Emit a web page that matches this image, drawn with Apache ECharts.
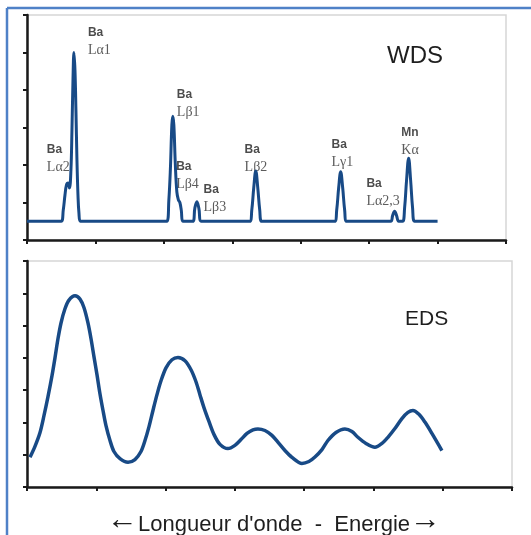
<!DOCTYPE html>
<html>
<head>
<meta charset="utf-8">
<script src="https://cdn.jsdelivr.net/npm/echarts@6/dist/echarts.min.js"></script>
<style>html,body{margin:0;padding:0;background:#fff}#c{width:531px;height:535px}</style>
</head>
<body>
<div id="c"></div>
<script>
// WDS spectrum (x position, intensity)
const wdsX = [0, 0.5, 0.53, 0.555, 0.577, 0.6, 0.62, 0.642, 0.657, 0.672, 0.686, 0.701, 0.715, 0.73, 0.745, 0.759, 0.78,
  2.044, 2.073, 2.095, 2.117, 2.131, 2.146, 2.168, 2.19, 2.212, 2.234, 2.255, 2.277,
  2.423, 2.453, 2.482, 2.511, 2.547,
  3.255, 3.285, 3.314, 3.343, 3.372, 3.401, 3.43,
  4.496, 4.526, 4.555, 4.584, 4.613, 4.642, 4.672,
  5.314, 5.343, 5.372, 5.401, 5.431,
  5.489, 5.518, 5.547, 5.577, 5.606, 5.635, 5.664, 6.0];
const wdsY = [0.5, 0.5, 0.8, 1.2, 1.47, 1.52, 1.39, 1.87, 2.93, 4.27, 5.0, 4.53, 3.47, 2.13, 1.2, 0.72, 0.5,
  0.5, 1.07, 1.87, 3.07, 3.3, 3.07, 2.0, 1.28, 1.07, 1.0, 0.79, 0.5,
  0.5, 0.85, 1.02, 0.85, 0.5,
  0.5, 0.8, 1.4, 1.84, 1.4, 0.8, 0.5,
  0.5, 0.8, 1.4, 1.82, 1.4, 0.8, 0.5,
  0.5, 0.65, 0.77, 0.65, 0.5,
  0.5, 0.85, 1.6, 2.18, 1.6, 0.85, 0.5, 0.5];

// EDS spectrum
const edsX = [0.043, 0.115, 0.188, 0.245, 0.303, 0.361, 0.404, 0.447, 0.491, 0.548,
  0.606, 0.693, 0.765, 0.823, 0.880, 0.924, 0.967, 1.010, 1.053, 1.097,
  1.140, 1.198, 1.255, 1.342, 1.458, 1.558, 1.645, 1.703, 1.761, 1.818,
  1.876, 1.934, 2.006, 2.092, 2.179, 2.280, 2.367, 2.439, 2.496, 2.554,
  2.626, 2.698, 2.785, 2.900, 3.001, 3.088, 3.175, 3.261, 3.333, 3.434,
  3.535, 3.636, 3.723, 3.824, 3.968, 4.069, 4.156, 4.257, 4.343, 4.459,
  4.589, 4.690, 4.776, 4.892, 5.022, 5.123, 5.209, 5.310, 5.411, 5.498,
  5.570, 5.657, 5.743, 5.844, 5.988];
const edsY = [0.92, 1.26, 1.69, 2.21, 2.80, 3.45, 4.00, 4.59, 5.08, 5.52,
  5.79, 5.92, 5.82, 5.55, 5.08, 4.59, 4.03, 3.48, 2.89, 2.37,
  1.90, 1.44, 1.10, 0.88, 0.77, 0.85, 1.10, 1.44, 1.87, 2.37,
  2.86, 3.29, 3.69, 3.94, 4.01, 3.91, 3.63, 3.26, 2.86, 2.46,
  2.03, 1.63, 1.32, 1.19, 1.29, 1.47, 1.66, 1.77, 1.80, 1.75,
  1.60, 1.35, 1.13, 0.92, 0.73, 0.79, 0.93, 1.16, 1.44, 1.69,
  1.80, 1.72, 1.54, 1.35, 1.23, 1.35, 1.54, 1.81, 2.12, 2.31,
  2.37, 2.25, 2.01, 1.66, 1.13];

// Peak annotations (anchor = top-left of label, in data coords)
const peakElem = ['Ba', 'Ba', 'Ba', 'Ba', 'Ba', 'Ba', 'Ba', 'Ba', 'Mn'];
const peakLine = ['Lα2', 'Lα1', 'Lβ1', 'Lβ4', 'Lβ3', 'Lβ2', 'Lγ1', 'Lα2,3', 'Kα'];
const peakLabX = [0.29, 0.89, 2.19, 2.18, 2.58, 3.18, 4.45, 4.96, 5.47];
const peakLabY = [2.63, 5.75, 4.09, 2.17, 1.56, 2.63, 2.76, 1.72, 3.08];

const lineColor = '#184a86';
const axisStyle = {
  axisLine: { show: true, onZero: false, lineStyle: { color: '#1a1a1a', width: 2.5 } },
  axisTick: { show: true, inside: false, length: 4, lineStyle: { color: '#1a1a1a', width: 2 } },
  axisLabel: { show: false },
  splitLine: { show: false }
};

const chart = echarts.init(document.getElementById('c'));
chart.setOption({
  animation: false,
  grid: [
    { left: 27, top: 15, right: 25, height: 225, show: true, borderColor: '#d6d6d6', borderWidth: 1.5, backgroundColor: '#fff' },
    { left: 27, top: 261, right: 19, height: 226, show: true, borderColor: '#d6d6d6', borderWidth: 1.5, backgroundColor: '#fff' }
  ],
  xAxis: [
    Object.assign({ type: 'value', gridIndex: 0, min: 0, max: 7, interval: 1 }, axisStyle),
    Object.assign({ type: 'value', gridIndex: 1, min: 0, max: 7, interval: 1 }, axisStyle)
  ],
  yAxis: [
    Object.assign({ type: 'value', gridIndex: 0, min: 0, max: 6, interval: 1 }, axisStyle),
    Object.assign({ type: 'value', gridIndex: 1, min: 0, max: 7, interval: 1 }, axisStyle)
  ],
  title: [
    { text: 'WDS', left: 382, top: 39, textStyle: { fontFamily: 'Liberation Sans, Arial', fontWeight: 'normal', fontSize: 24, color: '#1e1e1e' } },
    { text: 'EDS', left: 400, top: 304, textStyle: { fontFamily: 'Liberation Sans, Arial', fontWeight: 'normal', fontSize: 21, color: '#1e1e1e' } },
    {
      text: '{a|←}{t|Longueur d\'onde  -  Energie}{a|→}', left: 102, top: 506,
      textStyle: {
        fontWeight: 'normal',
        rich: {
          t: { fontFamily: 'Liberation Sans, Arial', fontWeight: 'normal', fontSize: 22, color: '#1e1e1e', lineHeight: 28, verticalAlign: 'middle' },
          a: { fontFamily: 'Liberation Serif, serif', fontWeight: 'normal', fontSize: 31, color: '#1e1e1e', lineHeight: 28, verticalAlign: 'middle', padding: [0, 0, 8, 0] }
        }
      }
    }
  ],
  graphic: [
    { type: 'line', shape: { x1: 7, y1: 8, x2: 531, y2: 8 }, style: { stroke: '#4f81c7', lineWidth: 2.5 } },
    { type: 'line', shape: { x1: 7, y1: 8, x2: 7, y2: 535 }, style: { stroke: '#4f81c7', lineWidth: 2.5 } }
  ],
  series: [
    {
      type: 'line', xAxisIndex: 0, yAxisIndex: 0, showSymbol: false, smooth: 0.4,
      lineStyle: { color: lineColor, width: 3 },
      data: wdsX.map((x, i) => [x, wdsY[i]])
    },
    {
      type: 'line', xAxisIndex: 1, yAxisIndex: 1, showSymbol: false, smooth: 0.3,
      lineStyle: { color: lineColor, width: 3.5 },
      data: edsX.map((x, i) => [x, edsY[i]])
    },
    {
      type: 'scatter', xAxisIndex: 0, yAxisIndex: 0, symbolSize: 0, silent: true,
      data: peakLabX.map((x, i) => ({ value: [x, peakLabY[i]], elem: peakElem[i], line: peakLine[i] })),
      label: {
        show: true, position: [0, 0], align: 'left', verticalAlign: 'top',
        formatter: p => '{b|' + p.data.elem + '}\n{s|' + p.data.line + '}',
        rich: {
          b: { fontFamily: 'Liberation Sans, Arial', fontWeight: 'bold', fontSize: 12, color: '#1e1e1e', lineHeight: 17 },
          s: { fontFamily: 'Liberation Serif, Times New Roman, serif', fontSize: 14, color: '#333', lineHeight: 17 }
        }
      }
    }
  ]
});
</script>
</body>
</html>
